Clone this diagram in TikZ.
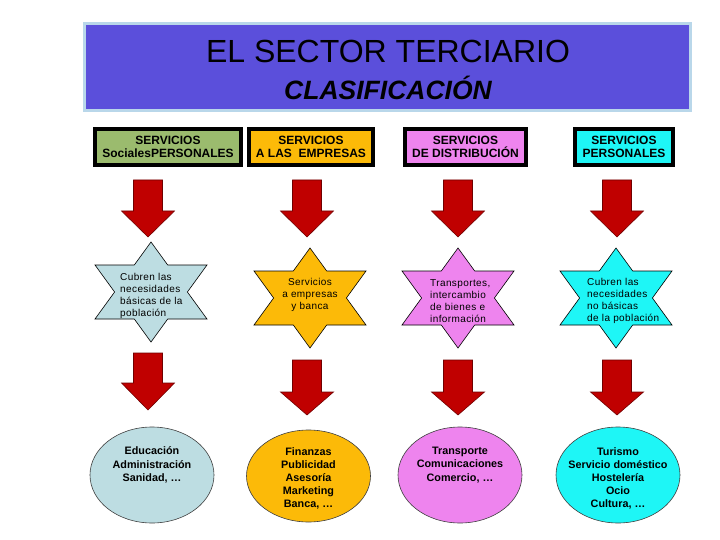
\documentclass[tikz,border=0pt]{standalone}
\usepackage{fontspec}
\setmainfont{Liberation Sans}
\newfontfamily\spacedfont[LetterSpace=4]{Liberation Sans}
\usetikzlibrary{shapes.geometric}
\definecolor{titlefill}{HTML}{5B4FDB}
\definecolor{titleedge}{HTML}{B9D7EA}
\definecolor{cgreen}{HTML}{9BBB6E}
\definecolor{corange}{HTML}{FCBA08}
\definecolor{cviolet}{HTML}{EE84EE}
\definecolor{ccyan}{HTML}{1EF6F6}
\definecolor{clblue}{HTML}{BDDDE2}
\definecolor{arrfill}{HTML}{C00000}
\definecolor{arredge}{HTML}{700000}
\newcommand\blockarr[4]{% center x, top, base, tip
  \draw[arrstyle] (#1-14.5,#2) -- (#1+14.5,#2) -- (#1+14.5,#3) -- (#1+26.5,#3) -- (#1,#4) -- (#1-26.5,#3) -- (#1-14.5,#3) -- cycle;}
\newcommand\hexastar[3]{% center x, center y, colour
  \draw[starstyle, fill=#3, shift={(#1,#2)}] (0,-50) -- (16.7,-27) -- (56,-27) -- (36.4,0) -- (56,27) -- (16.7,27) -- (0,50) -- (-16.7,27) -- (-56,27) -- (-36.4,0) -- (-56,-27) -- (-16.7,-27) -- cycle;}
\begin{document}
\begin{tikzpicture}[x=1pt,y=-1pt,
  headbox/.style={draw=black, line width=4pt, rectangle, minimum height=36pt, inner sep=0pt, align=center, font=\fontsize{12}{12.5}\selectfont\bfseries},
  arrstyle/.style={fill=arrfill, draw=arredge, line width=0.6pt, line join=miter},
  starstyle/.style={draw=black, line width=0.6pt},
  startext/.style={inner sep=0pt, font=\spacedfont\fontsize{10}{12}\selectfont},
  ellbox/.style={ellipse, draw=black!75, line width=0.6pt, minimum width=124pt, minimum height=96pt, inner sep=0pt},
  elltext/.style={inner sep=0pt, align=center, font=\fontsize{10.8}{13.2}\selectfont\bfseries}]
\useasboundingbox[fill=white] (0,0) rectangle (720,540);
% title
\node[rectangle, fill=titlefill, draw=titleedge, line width=3pt, minimum width=606pt, minimum height=87pt, inner sep=0pt] (title) at (387.5,67) {};
\node[font=\fontsize{32}{34}\selectfont, inner sep=0pt] (t1) at (388,51) {EL SECTOR TERCIARIO};
\node[font=\fontsize{26.5}{28}\selectfont\bfseries\itshape, inner sep=0pt] (t2) at (388,88) {CLASIFICACIÓN};
% headers
\node[headbox, fill=cgreen, minimum width=146pt] (h1) at (168,147) {SERVICIOS\\SocialesPERSONALES};
\node[headbox, fill=corange, minimum width=124pt] (h2) at (311,147) {SERVICIOS\\A LAS \ EMPRESAS};
\node[headbox, fill=cviolet, minimum width=121pt] (h3) at (465.5,147) {SERVICIOS\\DE DISTRIBUCIÓN};
\node[headbox, fill=ccyan, minimum width=98pt] (h4) at (624,147) {SERVICIOS\\PERSONALES};
% first row arrows
\blockarr{148}{180}{211}{237}
\blockarr{307}{180}{211}{237}
\blockarr{458}{180}{211}{237}
\blockarr{617}{180}{211}{237}
% stars
\hexastar{151}{292}{clblue}
\hexastar{310}{298}{corange}
\hexastar{458}{298}{cviolet}
\hexastar{616}{298}{ccyan}
\node[startext, anchor=west, align=left] (s1) at (120,295.5) {Cubren las\\necesidades\\básicas de la\\población};
\node[startext, align=center] (s2) at (310,294.5) {Servicios\\a empresas\\y banca};
\node[startext, anchor=west, align=left] (s3) at (430,301) {Transportes,\\intercambio\\de bienes e\\información};
\node[startext, anchor=west, align=left] (s4) at (587,301) {Cubren las\\necesidades\\no básicas\\de la población};
% second row arrows
\blockarr{148}{353}{383}{410}
\blockarr{307}{360}{392}{415}
\blockarr{458}{360}{392}{415}
\blockarr{617}{360}{392}{415}
% ellipses
\node[ellbox, fill=clblue] (e1) at (152,475) {};
\node[ellbox, fill=corange, minimum height=92pt] (e2) at (308.5,476) {};
\node[ellbox, fill=cviolet] (e3) at (460,475) {};
\node[ellbox, fill=ccyan] (e4) at (618,475) {};
\node[elltext] (e1t) at (152,465) {Educación\\Administración\\Sanidad, …};
\node[elltext] (e2t) at (308.5,478.5) {Finanzas\\Publicidad\\Asesoría\\Marketing\\Banca, …};
\node[elltext] (e3t) at (460,465) {Transporte\\Comunicaciones\\Comercio, …};
\node[elltext] (e4t) at (618,478.5) {Turismo\\Servicio doméstico\\Hostelería\\Ocio\\Cultura, …};
\end{tikzpicture}
\end{document}
